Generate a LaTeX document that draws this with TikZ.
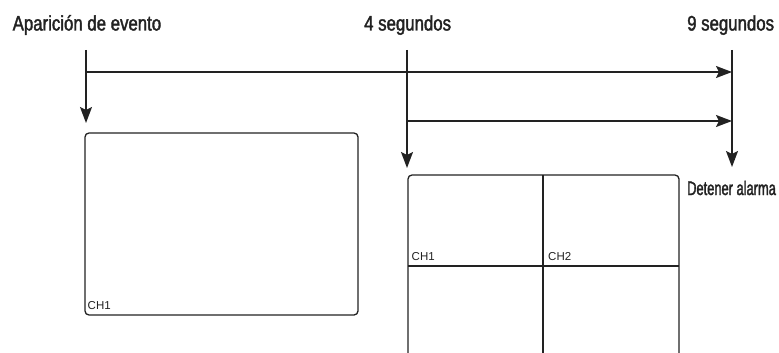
\documentclass[tikz,border=0pt]{standalone}
\usepackage{fontspec}
\setmainfont{Liberation Sans}
\newfontfamily\condtop[FakeStretch=0.80,FakeBold=1.8]{Liberation Sans}
\newfontfamily\condsmall[FakeStretch=0.66,FakeBold=1.8]{Liberation Sans}
\usetikzlibrary{arrows.meta}
\definecolor{ink}{HTML}{222222}
\begin{document}
\begin{tikzpicture}[x=1pt,y=1pt,
  toplabel/.style={inner sep=0pt,anchor=base west,font=\condtop\fontsize{21}{24}\selectfont,text=ink},
  sidelabel/.style={inner sep=0pt,anchor=base west,font=\condsmall\fontsize{19.5}{22}\selectfont,text=ink},
  chlabel/.style={inner sep=0pt,anchor=base west,font=\fontsize{11.5}{13}\selectfont,text=ink},
  timeline/.style={draw=ink,line width=1.6pt},
  arrowline/.style={timeline,-{Stealth[length=16pt,width=12pt,inset=3pt]}},
  screen/.style={draw=ink,line width=1.3pt}]
\useasboundingbox (0,0) rectangle (779,-353);
% labels
\node[toplabel] (ev) at (12.5,-30.5) {Aparición de evento};
\node[toplabel] (s4) at (364,-30.5) {4 segundos};
\node[toplabel] (s9) at (687,-30.5) {9 segundos};
\node[sidelabel] (stop) at (687,-195) {Detener alarma};
% timeline points
\coordinate (t0) at (86,-50);
\coordinate (t1) at (407,-50);
\coordinate (t2) at (732,-50);
\coordinate (h0) at (86,-72);
\coordinate (h1) at (407,-121);
\coordinate (e0) at (732,-72);
\coordinate (e1) at (732,-121);
\coordinate (b0) at (86,-123);
\coordinate (b1) at (407,-168);
\coordinate (b2) at (732,-167);
\draw[arrowline] (t0) -- (b0);
\draw[arrowline] (t1) -- (b1);
\draw[arrowline] (t2) -- (b2);
\draw[arrowline] (h0) -- (e0);
\draw[arrowline] (h1) -- (e1);
% left screen
\draw[screen,rounded corners=4pt] (85,-133) rectangle (358,-315);
\node[chlabel] (l1) at (87.5,-309) {CH1};
% right screen (quad)
\draw[screen,rounded corners=4pt] (408,-360) -- (408,-175) -- (679,-175) -- (679,-360);
\draw[screen] (543,-175) -- (543,-360);
\draw[screen] (408,-266) -- (679,-266);
\node[chlabel] (r1) at (411.5,-260) {CH1};
\node[chlabel] (r2) at (548,-260) {CH2};
\end{tikzpicture}
\end{document}
